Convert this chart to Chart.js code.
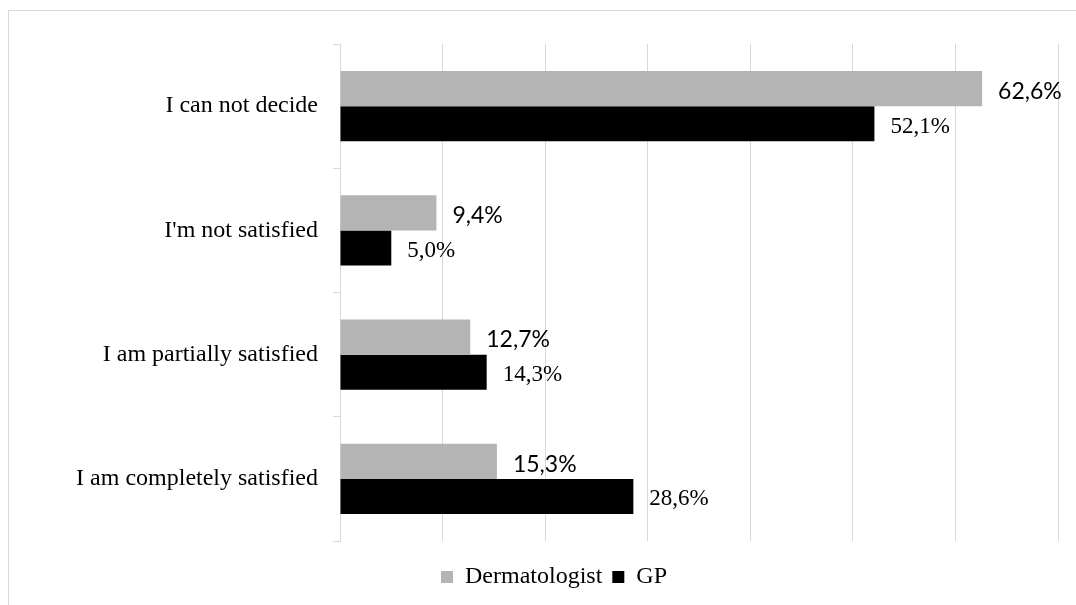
<!DOCTYPE html>
<html>
<head>
<meta charset="utf-8">
<script src="https://cdn.jsdelivr.net/npm/chart.js@4/dist/chart.umd.min.js"></script>
<style>
  html, body { margin: 0; padding: 0; background: #fff; overflow: hidden; }
  #frame {
    position: absolute; left: 8px; top: 10px;
    width: 1200px; height: 700px;
    border-left: 1px solid #d9d9d9; border-top: 1px solid #d9d9d9;
  }
  #chart { position: absolute; left: 0; top: 0; }
</style>
</head>
<body>
<div id="frame"><canvas id="chart" width="1067" height="594"></canvas></div>
<script>
// Survey answers (categories listed top to bottom)
const categories = [
  "I can not decide",
  "I'm not satisfied",
  "I am partially satisfied",
  "I am completely satisfied"
];
const seriesNames = ["Dermatologist", "GP"];
const dermatologistValues = [62.6, 9.4, 12.7, 15.3];
const gpValues = [52.1, 5.0, 14.3, 28.6];

const axisMax = 70;
const axisStep = 10;

const GRAY = '#b4b4b4';
const BLACK = '#000000';
const SERIF = '"Liberation Serif", "Times New Roman", serif';
const SANS = 'Lato, "Open Sans", "Liberation Sans", sans-serif';

const fmt = v => v.toFixed(1).replace('.', ',') + '%';

// Value labels at the end of each bar: sans for the first series, serif for the second
const valueLabels = {
  id: 'valueLabels',
  afterDraw(chart) {
    const ctx = chart.ctx;
    const styles = [
      { font: '400 23px ' + SANS, dy: 3 },
      { font: '23px ' + SERIF, dy: 3 }
    ];
    chart.data.datasets.forEach((ds, di) => {
      const meta = chart.getDatasetMeta(di);
      ctx.save();
      ctx.font = styles[di].font;
      ctx.fillStyle = '#000';
      ctx.textAlign = 'left';
      ctx.textBaseline = 'middle';
      meta.data.forEach((bar, i) => {
        ctx.fillText(fmt(ds.data[i]), bar.x + 16, bar.y + styles[di].dy);
      });
      ctx.restore();
    });
  }
};

new Chart(document.getElementById('chart'), {
  type: 'bar',
  data: {
    labels: categories,
    datasets: [
      { label: seriesNames[0], data: dermatologistValues, backgroundColor: GRAY, borderWidth: 0,
        categoryPercentage: 0.565, barPercentage: 1.0 },
      { label: seriesNames[1], data: gpValues, backgroundColor: BLACK, borderWidth: 0,
        categoryPercentage: 0.565, barPercentage: 1.0 }
    ]
  },
  options: {
    indexAxis: 'y',
    responsive: false,
    animation: false,
    layout: { padding: { left: 41, right: 18, top: 33, bottom: 6 } },
    scales: {
      x: {
        min: 0, max: axisMax,
        z: 1,
        ticks: { display: false, stepSize: axisStep },
        grid: { color: 'rgba(0,0,0,0.15)', lineWidth: 1, drawTicks: false },
        border: { display: false },
        afterFit(s) { s.height = 14; }
      },
      y: {
        offset: true,
        ticks: { color: '#000', padding: 15, font: { family: SERIF, size: 24 } },
        grid: { display: true, drawOnChartArea: false, drawTicks: true, tickLength: 7,
                color: '#d9d9d9', offset: true },
        border: { display: true, color: '#d9d9d9', width: 1 },
        afterFit(s) { s.width = 290; }
      }
    },
    plugins: {
      legend: {
        position: 'bottom',
        labels: {
          boxWidth: 12, boxHeight: 12, padding: 10,
          color: '#000',
          font: { family: SERIF, size: 24 }
        }
      },
      tooltip: { enabled: false }
    }
  },
  plugins: [valueLabels]
});
</script>
</body>
</html>
